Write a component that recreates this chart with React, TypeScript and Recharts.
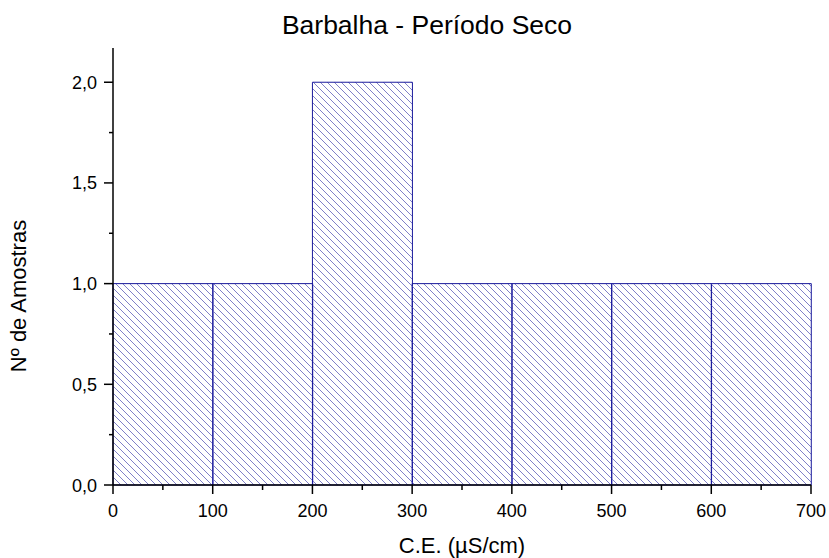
import { BarChart, Bar, XAxis, YAxis, Label } from "recharts";

// histogram bins of electrical conductivity (bin centres, µS/cm) and sample counts
const binCentres = [50, 150, 250, 350, 450, 550, 650];
const counts = [1, 1, 2, 1, 1, 1, 1];

// axis ticks (major + minor)
const xTicks = [0, 50, 100, 150, 200, 250, 300, 350, 400, 450, 500, 550, 600, 650, 700];
const yTicks = [0, 0.25, 0.5, 0.75, 1, 1.25, 1.5, 1.75, 2];

const data = binCentres.map((ce, i) => ({ ce, count: counts[i] }));

const FONT = '"Liberation Sans", Arial, sans-serif';
const AXIS = "#000";
const EDGE = "#1a1a9c";
const HATCH = "#8080c8";

const XTick = (props: any) => {
  const { x, y, payload } = props;
  const major = payload.value % 100 === 0;
  return (
    <g>
      <line x1={x} x2={x} y1={y} y2={y + (major ? 9 : 5)} stroke={AXIS} strokeWidth={1.5} />
      {major && (
        <text x={x} y={y + 32} textAnchor="middle" fontSize={18} fontFamily={FONT} fill="#000">
          {payload.value}
        </text>
      )}
    </g>
  );
};

const YTick = (props: any) => {
  const { x, y, payload } = props;
  const major = Math.abs(payload.value * 2 - Math.round(payload.value * 2)) < 1e-6;
  return (
    <g>
      <line x1={x - (major ? 9 : 4)} x2={x} y1={y} y2={y} stroke={AXIS} strokeWidth={1.5} />
      {major && (
        <text x={x - 16} y={y + 6.5} textAnchor="end" fontSize={18} fontFamily={FONT} fill="#000">
          {payload.value.toFixed(1).replace(".", ",")}
        </text>
      )}
    </g>
  );
};

export default function App() {
  return (
    <div style={{ position: "absolute", left: 0, top: 0, width: 829, height: 558, background: "#fff" }}>
      <div
        style={{
          position: "absolute",
          left: 427,
          top: 12,
          transform: "translateX(-50%)",
          fontFamily: FONT,
          fontSize: 26.5,
          lineHeight: "26px",
          whiteSpace: "nowrap",
          color: "#000",
        }}
      >
        Barbalha - Período Seco
      </div>
      <BarChart
        width={829}
        height={558}
        data={data}
        margin={{ top: 48, right: 18, bottom: 0, left: 0 }}
        barCategoryGap={0}
        barGap={0}
      >
        <defs>
          <pattern id="hatch" patternUnits="userSpaceOnUse" width={7} height={7}>
            <path d="M-1,-1 L8,8 M-1,6 L1,8 M6,-1 L8,1" stroke={HATCH} strokeWidth={1} />
          </pattern>
        </defs>
        <XAxis
          dataKey="ce"
          type="number"
          domain={[0, 700]}
          ticks={xTicks}
          interval={0}
          height={73}
          tickSize={0}
          tickMargin={0}
          tickLine={false}
          axisLine={{ stroke: AXIS, strokeWidth: 1.5 }}
          tick={<XTick />}
        >
          <Label
            content={(p: any) => {
              const { x, y, width } = p.viewBox;
              return (
                <text x={x + width / 2} y={y + 68} textAnchor="middle" fontSize={22} fontFamily={FONT} fill="#000">
                  C.E. (µS/cm)
                </text>
              );
            }}
          />
        </XAxis>
        <YAxis
          type="number"
          domain={[0, 2.17]}
          ticks={yTicks}
          interval={0}
          width={113}
          tickSize={0}
          tickMargin={0}
          tickLine={false}
          axisLine={{ stroke: AXIS, strokeWidth: 1.5 }}
          tick={<YTick />}
        >
          <Label
            content={() => (
              <text
                x={26}
                y={296}
                transform="rotate(-90, 26, 296)"
                textAnchor="middle"
                fontSize={22}
                fontFamily={FONT}
                fill="#000"
              >
                Nº de Amostras
              </text>
            )}
          />
        </YAxis>
        <Bar dataKey="count" fill="url(#hatch)" stroke={EDGE} strokeWidth={1} isAnimationActive={false} />
      </BarChart>
    </div>
  );
}
